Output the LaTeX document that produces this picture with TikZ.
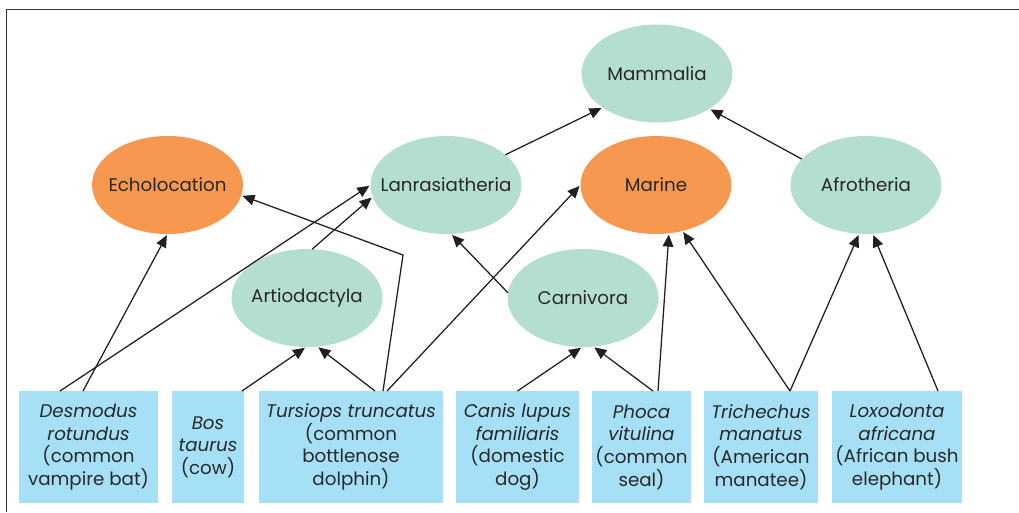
\documentclass[tikz,border=0pt]{standalone}
\usepackage{fontspec}
\setmainfont{Poppins}
\usetikzlibrary{shapes.geometric,arrows.meta,calc}
\definecolor{cgreen}{RGB}{180,222,205}
\definecolor{corange}{RGB}{247,152,80}
\definecolor{cblue}{RGB}{166,224,247}
\definecolor{ctext}{RGB}{40,40,40}
\definecolor{cline}{RGB}{35,31,32}
\begin{document}
\begin{tikzpicture}[x=0.75pt,y=-0.75pt,
  clade/.style={ellipse,fill=cgreen,minimum width=113.25pt,minimum height=73.5pt,inner sep=0pt,outer sep=0pt,text=ctext,font=\fontsize{13.7pt}{16pt}\selectfont},
  trait/.style={clade,fill=corange},
  species/.style={rectangle,fill=cblue,inner sep=0pt,outer sep=0pt,minimum height=84pt,text=ctext,align=center,font=\fontsize{13.7pt}{17pt}\selectfont},
  link/.style={draw=cline,line width=0.95pt,-{Triangle[length=9pt,width=8pt]},shorten >=1pt},
  frameline/.style={draw=black!80,line width=1.4pt}]
\useasboundingbox (0,0) rectangle (1019,512);
\draw[frameline] (6.5,512) -- (6.5,9.5) -- (1019,9.5);
% clades
\node[clade] (mam) at (657,73.5) {\makebox[0pt]{Mammalia}};
\node[trait] (echo) at (167.5,185) {\makebox[0pt]{Echolocation}};
\node[clade] (lan) at (446,185) {\makebox[0pt]{Lanrasiatheria}};
\node[trait] (mar) at (656,185) {\makebox[0pt]{Marine}};
\node[clade] (afr) at (866,185) {\makebox[0pt]{Afrotheria}};
\node[clade] (art) at (307,298) {\makebox[0pt]{Artiodactyla}};
\node[clade] (car) at (583,298) {\makebox[0pt]{Carnivora}};
% species
\node[species,minimum width=104.25pt] (des) at (88.5,447) {\textit{Desmodus}\\\textit{rotundus}\\(common\\vampire bat)};
\node[species,minimum width=54pt] (bos) at (208,447) {\textit{Bos}\\\textit{taurus}\\(cow)};
\node[species,minimum width=138pt] (tur) at (351,447) {\textit{Tursiops truncatus}\\(common\\bottlenose\\dolphin)};
\node[species,minimum width=92.25pt] (can) at (517.5,447) {\textit{Canis lupus}\\\textit{familiaris}\\(domestic\\dog)};
\node[species,minimum width=74.25pt] (pho) at (641.5,447) {\textit{Phoca}\\\textit{vitulina}\\(common\\seal)};
\node[species,minimum width=85.5pt] (tri) at (761,447) {\textit{Trichechus}\\\textit{manatus}\\(American\\manatee)};
\node[species,minimum width=97.5pt] (lox) at (897,447) {\textit{Loxodonta}\\\textit{africana}\\(African bush\\elephant)};
\coordinate (bend) at (403,255);
% connectors
\draw[link] ($(des.north)+(-28.5,0)$) -- (lan.180);
\draw[link] ($(des.north)+(-5.5,0)$) -- (echo.-90);
\draw[link] ($(bos.north)+(34,0)$) -- (art.-91);
\draw[link] ($(tur.north)+(24,0)$) -- (art.-78);
\draw[link] ($(tur.north)+(32,0)$) -- (bend) -- (echo.-8);
\draw[link] ($(tur.north)+(36,0)$) -- (mar.180);
\draw[link] (art.84) -- (lan.189);
\draw[link] (car.176) -- (lan.-84);
\draw[link] (can.north) -- (car.-91);
\draw[link] ($(pho.north)+(11.5,0)$) -- (car.-78);
\draw[link] ($(pho.north)+(16.5,0)$) -- (mar.-75);
\draw[link] ($(tri.north)+(29,0)$) -- (mar.-60);
\draw[link] ($(tri.north)+(29,0)$) -- (afr.-98);
\draw[link] ($(lox.north)+(41,0)$) -- (afr.-82);
\draw[link] (lan.27) -- (mam.-148);
\draw[link] (afr.158) -- (mam.-34);
\end{tikzpicture}
\end{document}
